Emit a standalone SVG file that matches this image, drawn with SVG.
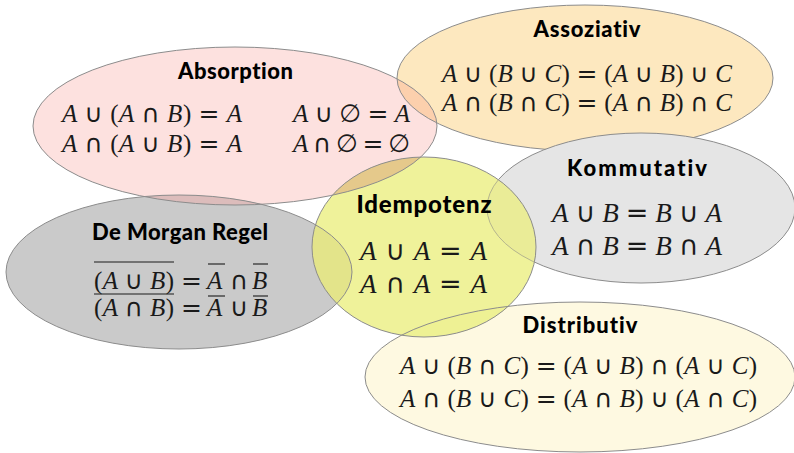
<svg xmlns="http://www.w3.org/2000/svg" width="794" height="453" viewBox="0 0 794 453">
<style>
.t{font-family:Lato,"Open Sans","Liberation Sans",sans-serif;font-weight:900;font-size:22px;fill:#000;text-anchor:middle;font-variant-ligatures:none}
.m{font-family:"Liberation Serif","DejaVu Serif",serif;font-size:25px;fill:#1a1a1a}
.mb{font-size:27px}
.i{font-style:italic}
.p{font-family:"DejaVu Sans",sans-serif}
.s{stroke:#8c8c8c;stroke-width:1}
.n{fill:none}
.ol{stroke:#1a1a1a;stroke-width:1.1}
</style>
<defs>
<ellipse id="eAbs" cx="235" cy="126" rx="202" ry="79"/>
<ellipse id="eAss" cx="585" cy="78" rx="188" ry="73"/>
<ellipse id="eDM" cx="179" cy="272" rx="173" ry="77"/>
<ellipse id="eIdem" cx="424" cy="247" rx="112" ry="90"/>
<ellipse id="eKom" cx="641" cy="208" rx="154" ry="75"/>
<ellipse id="eDist" cx="580" cy="377" rx="215" ry="75"/>
<clipPath id="cAbs"><use href="#eAbs"/></clipPath>
<clipPath id="cIdem"><use href="#eIdem"/></clipPath>
</defs>
<rect width="794" height="453" fill="#fff"/>
<g id="areas">
<use href="#eAss" fill="#fde8bf" class="s"/>
<use href="#eKom" fill="#e5e5e5" class="s"/>
<use href="#eAbs" fill="#fde1df"/>
<use href="#eDM" fill="#cacaca"/>
<use href="#eDist" fill="#fef9e1"/>
<use href="#eIdem" fill="#eff29a"/>
<use href="#eAss" fill="#fcd0ad" clip-path="url(#cAbs)"/>
<use href="#eIdem" fill="#e5c98b" clip-path="url(#cAbs)"/>
<use href="#eDM" fill="#dcbcbb" clip-path="url(#cAbs)"/>
<use href="#eDM" fill="#e3e48a" clip-path="url(#cIdem)"/>
<use href="#eKom" fill="#eaec97" clip-path="url(#cIdem)"/>
<use href="#eDist" fill="#eef194" clip-path="url(#cIdem)"/>
<use href="#eAbs" class="s n"/>
<use href="#eDM" class="s n"/>
<use href="#eDist" class="s n"/>
<use href="#eIdem" class="s n"/>
<use href="#eAss" class="s n" clip-path="url(#cAbs)"/>
<use href="#eKom" class="n" clip-path="url(#cIdem)" stroke="#b4b48e" stroke-width="1"/>
</g>
<g id="absorption">
<text class="t" x="235.5" y="79" textLength="115">Absorption</text>
<text class="m" x="62" y="122" textLength="180"><tspan class="i">A</tspan> <tspan class="p">∪</tspan> (<tspan class="i">A</tspan> <tspan class="p">∩</tspan> <tspan class="i">B</tspan>) <tspan class="p">=</tspan> <tspan class="i">A</tspan></text>
<text class="m" x="62" y="152" textLength="180"><tspan class="i">A</tspan> <tspan class="p">∩</tspan> (<tspan class="i">A</tspan> <tspan class="p">∪</tspan> <tspan class="i">B</tspan>) <tspan class="p">=</tspan> <tspan class="i">A</tspan></text>
<text class="m" x="293" y="122" textLength="117"><tspan class="i">A</tspan> <tspan class="p">∪</tspan> <tspan class="p">∅</tspan> <tspan class="p">=</tspan> <tspan class="i">A</tspan></text>
<text class="m" x="293" y="152" textLength="117"><tspan class="i">A</tspan> <tspan class="p">∩</tspan> <tspan class="p">∅</tspan> <tspan class="p">=</tspan> <tspan class="p">∅</tspan></text>
</g>
<g id="assoziativ">
<text class="t" x="587" y="37" textLength="107">Assoziativ</text>
<text class="m" x="442" y="82" textLength="290"><tspan class="i">A</tspan> <tspan class="p">∪</tspan> (<tspan class="i">B</tspan> <tspan class="p">∪</tspan> <tspan class="i">C</tspan>) <tspan class="p">=</tspan> (<tspan class="i">A</tspan> <tspan class="p">∪</tspan> <tspan class="i">B</tspan>) <tspan class="p">∪</tspan> <tspan class="i">C</tspan></text>
<text class="m" x="442" y="111" textLength="290"><tspan class="i">A</tspan> <tspan class="p">∩</tspan> (<tspan class="i">B</tspan> <tspan class="p">∩</tspan> <tspan class="i">C</tspan>) <tspan class="p">=</tspan> (<tspan class="i">A</tspan> <tspan class="p">∩</tspan> <tspan class="i">B</tspan>) <tspan class="p">∩</tspan> <tspan class="i">C</tspan></text>
</g>
<g id="demorgan">
<text class="t" x="180" y="240" textLength="176">De Morgan Regel</text>
<text class="m" x="94" y="289" textLength="80">(<tspan class="i">A</tspan> <tspan class="p">∪</tspan> <tspan class="i">B</tspan>)</text>
<text class="m" x="181" y="289"><tspan class="p">=</tspan></text>
<text class="m" x="207" y="289"><tspan class="i">A</tspan></text>
<text class="m" x="230" y="289"><tspan class="p">∩</tspan></text>
<text class="m" x="252" y="289"><tspan class="i">B</tspan></text>
<text class="m" x="94" y="316" textLength="80">(<tspan class="i">A</tspan> <tspan class="p">∩</tspan> <tspan class="i">B</tspan>)</text>
<text class="m" x="181" y="316"><tspan class="p">=</tspan></text>
<text class="m" x="207" y="316"><tspan class="i">A</tspan></text>
<text class="m" x="230" y="316"><tspan class="p">∪</tspan></text>
<text class="m" x="252" y="316"><tspan class="i">B</tspan></text>
<line class="ol" x1="94" y1="262" x2="174" y2="262"/>
<line class="ol" x1="208" y1="264" x2="225" y2="264"/>
<line class="ol" x1="253" y1="264" x2="268" y2="264"/>
<line class="ol" x1="94" y1="294" x2="174" y2="294"/>
<line class="ol" x1="208" y1="296" x2="225" y2="296"/>
<line class="ol" x1="253" y1="296" x2="268" y2="296"/>
</g>
<g id="idempotenz">
<text class="t" x="424" y="213" textLength="135" style="font-size:24px">Idempotenz</text>
<text class="m mb" x="360" y="260" textLength="127"><tspan class="i">A</tspan> <tspan class="p">∪</tspan> <tspan class="i">A</tspan> <tspan class="p">=</tspan> <tspan class="i">A</tspan></text>
<text class="m mb" x="360" y="293" textLength="127"><tspan class="i">A</tspan> <tspan class="p">∩</tspan> <tspan class="i">A</tspan> <tspan class="p">=</tspan> <tspan class="i">A</tspan></text>
</g>
<g id="kommutativ">
<text class="t" x="637" y="176" textLength="140">Kommutativ</text>
<text class="m mb" x="552" y="222" textLength="170"><tspan class="i">A</tspan> <tspan class="p">∪</tspan> <tspan class="i">B</tspan> <tspan class="p">=</tspan> <tspan class="i">B</tspan> <tspan class="p">∪</tspan> <tspan class="i">A</tspan></text>
<text class="m mb" x="552" y="255" textLength="170"><tspan class="i">A</tspan> <tspan class="p">∩</tspan> <tspan class="i">B</tspan> <tspan class="p">=</tspan> <tspan class="i">B</tspan> <tspan class="p">∩</tspan> <tspan class="i">A</tspan></text>
</g>
<g id="distributiv">
<text class="t" x="580" y="333" textLength="115">Distributiv</text>
<text class="m" x="400" y="374" textLength="357"><tspan class="i">A</tspan> <tspan class="p">∪</tspan> (<tspan class="i">B</tspan> <tspan class="p">∩</tspan> <tspan class="i">C</tspan>) <tspan class="p">=</tspan> (<tspan class="i">A</tspan> <tspan class="p">∪</tspan> <tspan class="i">B</tspan>) <tspan class="p">∩</tspan> (<tspan class="i">A</tspan> <tspan class="p">∪</tspan> <tspan class="i">C</tspan>)</text>
<text class="m" x="400" y="407" textLength="357"><tspan class="i">A</tspan> <tspan class="p">∩</tspan> (<tspan class="i">B</tspan> <tspan class="p">∪</tspan> <tspan class="i">C</tspan>) <tspan class="p">=</tspan> (<tspan class="i">A</tspan> <tspan class="p">∩</tspan> <tspan class="i">B</tspan>) <tspan class="p">∪</tspan> (<tspan class="i">A</tspan> <tspan class="p">∩</tspan> <tspan class="i">C</tspan>)</text>
</g>
</svg>
